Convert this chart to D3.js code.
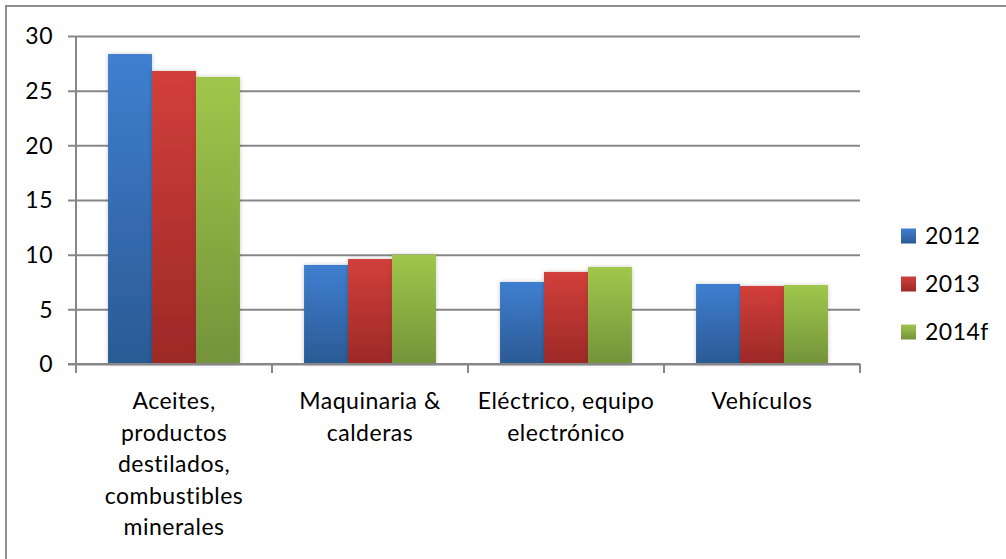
<!DOCTYPE html>
<html>
<head>
<meta charset="utf-8">
<script src="https://cdn.jsdelivr.net/npm/d3@7"></script>
<style>
  html, body { margin: 0; padding: 0; background: #fff; }
  svg { display: block; }
  text {
    font-family: Lato, "Open Sans", sans-serif;
    fill: #000;
    font-variant-ligatures: none;
    font-feature-settings: "liga" 0;
    letter-spacing: 0.5px;
  }
</style>
</head>
<body>
<svg id="chart" width="1006" height="559"></svg>
<script>
// Categories (each split into its display lines)
const categories = ["Aceites", "Maquinaria", "Electrico", "Vehiculos"];
const categoryLines = [
  ["Aceites,", "productos", "destilados,", "combustibles", "minerales"],
  ["Maquinaria &", "calderas"],
  ["Eléctrico, equipo", "electrónico"],
  ["Vehículos"]
];
const seriesNames = ["2012", "2013", "2014f"];
const values2012 = [28.35, 9.06, 7.5, 7.32];
const values2013 = [26.8, 9.6, 8.42, 7.14];
const values2014f = [26.26, 10.0, 8.87, 7.23];
const yTicks = [0, 5, 10, 15, 20, 25, 30];

const seriesValues = [values2012, values2013, values2014f];
const colorTop = ["#3f7fd0", "#d23f3b", "#a0c74b"];
const colorBottom = ["#2b5a94", "#9c2927", "#74933a"];
const fontSize = "23px";

const svg = d3.select("#chart");
const defs = svg.append("defs");

seriesNames.forEach((s, i) => {
  const g = defs.append("linearGradient")
    .attr("id", "grad" + i)
    .attr("x1", 0).attr("y1", 0).attr("x2", 0).attr("y2", 1);
  g.append("stop").attr("offset", "0%").attr("stop-color", colorTop[i]);
  g.append("stop").attr("offset", "100%").attr("stop-color", colorBottom[i]);
});

const shadow = defs.append("filter").attr("id", "barShadow")
  .attr("x", "-20%").attr("y", "-5%").attr("width", "140%").attr("height", "110%");
shadow.append("feDropShadow")
  .attr("dx", 0).attr("dy", 0).attr("stdDeviation", 2.2)
  .attr("flood-color", "#000").attr("flood-opacity", 0.22);

// Outer frame
svg.append("rect")
  .attr("x", 6).attr("y", 6).attr("width", 1010).attr("height", 570)
  .attr("fill", "none").attr("stroke", "#8e8e8e").attr("stroke-width", 2);

const plot = { left: 76, right: 860, top: 36, bottom: 364 };

const x0 = d3.scaleBand()
  .domain(categories)
  .range([plot.left, plot.right])
  .paddingInner(0.327)
  .paddingOuter(0.1635);

const x1 = d3.scaleBand()
  .domain(seriesNames)
  .range([0, x0.bandwidth()]);

const y = d3.scaleLinear()
  .domain([0, 30])
  .range([plot.bottom, plot.top]);

// Horizontal gridlines with short left tick marks
const grid = svg.append("g")
  .attr("transform", `translate(${plot.left},0)`)
  .call(d3.axisLeft(y).tickValues(yTicks).tickSize(plot.left - plot.right).tickSizeOuter(0).tickFormat(""));
grid.select(".domain").remove();
grid.selectAll(".tick line")
  .attr("x1", -8)
  .attr("stroke", "#878787").attr("stroke-width", 2);

// Y-axis labels
svg.append("g").selectAll("text")
  .data(yTicks)
  .join("text")
  .attr("x", 53)
  .attr("y", d => y(d))
  .attr("dy", "0.36em")
  .attr("text-anchor", "end")
  .style("font-size", fontSize)
  .text(d => d);

// Bars
const groups = svg.append("g").selectAll("g")
  .data(categories)
  .join("g")
  .attr("transform", d => `translate(${x0(d)},0)`);

groups.selectAll("rect")
  .data((d, ci) => seriesNames.map((s, si) => ({ s, si, v: seriesValues[si][ci] })))
  .join("rect")
  .attr("x", d => x1(d.s))
  .attr("y", d => y(d.v))
  .attr("width", x1.bandwidth())
  .attr("height", d => y(0) - y(d.v))
  .attr("fill", d => `url(#grad${d.si})`)
  .attr("filter", "url(#barShadow)");

// Vertical axis line
svg.append("line")
  .attr("x1", plot.left).attr("x2", plot.left)
  .attr("y1", plot.top).attr("y2", plot.bottom + 1)
  .attr("stroke", "#878787").attr("stroke-width", 2);

// Category axis line and boundary ticks
const boundaries = d3.range(categories.length + 1)
  .map(i => plot.left + i * x0.step());
svg.append("line")
  .attr("x1", plot.left - 8).attr("x2", plot.right)
  .attr("y1", plot.bottom).attr("y2", plot.bottom)
  .attr("stroke", "#878787").attr("stroke-width", 2);
svg.append("g").selectAll("line")
  .data(boundaries)
  .join("line")
  .attr("x1", d => d).attr("x2", d => d)
  .attr("y1", plot.bottom).attr("y2", plot.bottom + 9)
  .attr("stroke", "#878787").attr("stroke-width", 2);

// Category labels
const labels = svg.append("g").selectAll("text")
  .data(categories)
  .join("text")
  .attr("text-anchor", "middle")
  .style("font-size", fontSize)
  .attr("transform", d => `translate(${x0(d) + x0.bandwidth() / 2},409)`);
labels.selectAll("tspan")
  .data((d, i) => categoryLines[i])
  .join("tspan")
  .attr("x", 0)
  .attr("y", (d, i) => i * 31.5)
  .text(d => d);

// Legend
const legend = svg.append("g").selectAll("g")
  .data(seriesNames)
  .join("g")
  .attr("transform", (d, i) => `translate(901,${236 + i * 48})`);
legend.append("rect")
  .attr("x", 0).attr("y", -7.5)
  .attr("width", 15).attr("height", 15)
  .attr("fill", (d, i) => `url(#grad${i})`);
legend.append("text")
  .attr("x", 24).attr("y", 0).attr("dy", "0.36em")
  .style("font-size", fontSize)
  .text(d => d);
</script>
</body>
</html>
